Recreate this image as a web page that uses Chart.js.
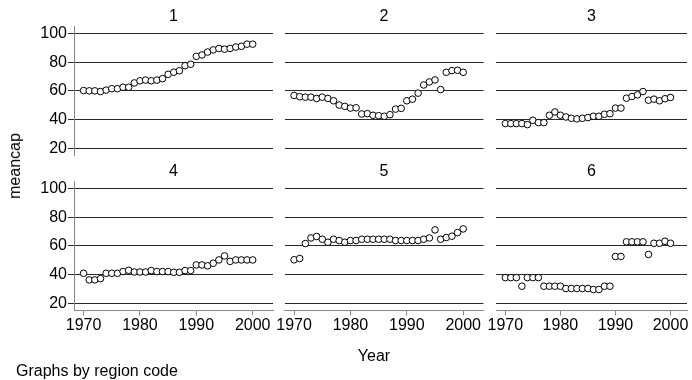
<!DOCTYPE html>
<html>
<head>
<meta charset="utf-8">
<script src="https://cdn.jsdelivr.net/npm/chart.js@4.4.1/dist/chart.umd.min.js"></script>
<style>
  body { margin: 0; background: #fff; }
  #wrap { position: relative; width: 692px; height: 380px; overflow: hidden; font-family: "Liberation Sans", Arial, sans-serif; color: #000; }
  #wrap canvas { position: absolute; left: 0; top: 0; }
  .lbl { position: absolute; font-size: 16px; white-space: nowrap; }
</style>
</head>
<body>
<div id="wrap">
  <canvas id="p1" width="692" height="380"></canvas>
  <canvas id="p2" width="692" height="380"></canvas>
  <canvas id="p3" width="692" height="380"></canvas>
  <canvas id="p4" width="692" height="380"></canvas>
  <canvas id="p5" width="692" height="380"></canvas>
  <canvas id="p6" width="692" height="380"></canvas>
  <div class="lbl" style="left:15px;top:166px;transform:translate(-50%,-50%) rotate(-90deg);">meancap</div>
  <div class="lbl" style="left:374px;top:356px;transform:translate(-50%,-50%);">Year</div>
  <div class="lbl" style="left:16px;top:371px;transform:translate(0,-50%);">Graphs by region code</div>
</div>
<script>
// years and mean capacity per region
const years = [1970,1971,1972,1973,1974,1975,1976,1977,1978,1979,1980,1981,1982,1983,1984,1985,
               1986,1987,1988,1989,1990,1991,1992,1993,1994,1995,1996,1997,1998,1999,2000];
const region1 = [60.2,60,60,59.5,60.5,61.5,61.5,62.5,62.5,65.5,67,67.5,67,67.5,68.5,71.5,73,74,77.5,78.5,84,85,87,88.5,89.5,89,89.5,90.5,91,92.5,92.5];
const region2 = [56.8,55.9,55.6,55.6,54.7,55.6,54.7,53.1,50.1,49.2,48,48.2,43.9,44.1,43,42.7,42.3,43.4,47.3,47.8,53.1,54.2,58.4,64.1,66.2,67.6,60.9,72.9,74.1,74.3,72.9];
const region3 = [37.2,37.2,37.2,37.2,36.5,39.5,37.9,37.9,43,45.3,43,41.8,40.9,40.5,40.9,41.4,42.3,42.3,43.7,44.1,48,48,54.9,56.1,57.2,59.5,53.5,54.2,53.1,54.5,55.4];
const region4 = [40.9,36.3,36.3,37.2,40.9,40.9,40.9,42.1,43,41.8,41.8,41.8,42.8,42.1,42.1,42.1,41.6,41.6,42.8,42.8,46.7,46.7,46.1,47.9,50.2,53,49.2,50.2,50.2,50.2,50.2];
const region5 = [50.3,51.2,61.6,65.5,66.5,64.6,62.5,64.6,63.7,62.5,63.7,63.7,64.6,64.6,64.6,64.6,64.6,64.6,63.7,63.7,63.7,63.7,63.7,64.6,65.5,71.1,64.6,65.8,66.7,69.2,71.8];
const region6 = [37.9,37.9,37.9,31.9,37.9,37.9,37.9,31.9,31.9,31.9,31.9,30.3,30.3,30.3,30.3,30.3,29.6,29.6,31.9,31.9,52.6,52.6,62.8,62.8,62.8,62.8,54,61.8,61.8,63.2,61.8];

const regionNames = ['1','2','3','4','5','6'];
const yTicks = [20, 40, 60, 80, 100];
const xTicks = [1970, 1980, 1990, 2000];

// panel boxes: chart area left/right in px, and whether it's the left column / bottom row
const panels = [
  { id: 'p1', data: region1, left: 74,    right: 273,   row: 0, col: 0 },
  { id: 'p2', data: region2, left: 284.5, right: 483.5, row: 0, col: 1 },
  { id: 'p3', data: region3, left: 496,   right: 691,   row: 0, col: 2 },
  { id: 'p4', data: region4, left: 74,    right: 273,   row: 1, col: 0 },
  { id: 'p5', data: region5, left: 284.5, right: 483.5, row: 1, col: 1 },
  { id: 'p6', data: region6, left: 496,   right: 691,   row: 1, col: 2 },
];

const fontSpec = { family: '"Liberation Sans", Arial, sans-serif', size: 16, weight: 'normal' };
const Y_AXIS_W = 40;
const X_AXIS_H = 23;

panels.forEach((p, i) => {
  const showY = p.col === 0;
  const showX = p.row === 1;
  const areaBottom = p.row === 0 ? 155.5 : 310.5;
  const padTop = p.row === 0 ? 7 : 162;
  const xmax = p.col === 2 ? 2003.0 : 2003.6;

  new Chart(document.getElementById(p.id), {
    type: 'scatter',
    data: {
      datasets: [{
        data: years.map((y, k) => ({ x: y, y: p.data[k] })),
        pointStyle: 'circle',
        pointRadius: 3.3,
        borderWidth: 1,
        borderColor: '#000',
        backgroundColor: '#fff'
      }]
    },
    options: {
      responsive: false,
      animation: false,
      layout: {
        padding: {
          top: padTop,
          left: p.left - (showY ? Y_AXIS_W : 0),
          right: 692 - p.right,
          bottom: 380 - areaBottom - (showX ? X_AXIS_H : 0)
        }
      },
      plugins: {
        legend: { display: false },
        tooltip: { enabled: false },
        title: {
          display: true,
          text: regionNames[i],
          fullSize: false,
          color: '#000',
          font: fontSpec,
          padding: { top: 0, bottom: 0 }
        }
      },
      scales: {
        x: {
          type: 'linear',
          display: showX,
          min: 1968.3,
          max: xmax,
          afterBuildTicks: s => { s.ticks = xTicks.map(v => ({ value: v })); },
          afterFit: s => { s.height = showX ? X_AXIS_H : 0; },
          grid: { drawOnChartArea: false, drawTicks: true, tickLength: 5, color: '#888' },
          border: { display: true, color: '#888' },
          ticks: { color: '#000', font: fontSpec, padding: 0, maxRotation: 0, callback: v => String(v) }
        },
        y: {
          min: 15,
          max: 105,
          afterBuildTicks: s => { s.ticks = yTicks.map(v => ({ value: v })); },
          afterFit: s => { s.width = showY ? Y_AXIS_W : 0; },
          grid: { color: '#2a2a2a', lineWidth: 1, drawTicks: showY, tickLength: 6 },
          border: { display: showY, color: '#888' },
          ticks: { display: showY, color: '#000', font: fontSpec, padding: 1 }
        }
      }
    }
  });
});
</script>
</body>
</html>
